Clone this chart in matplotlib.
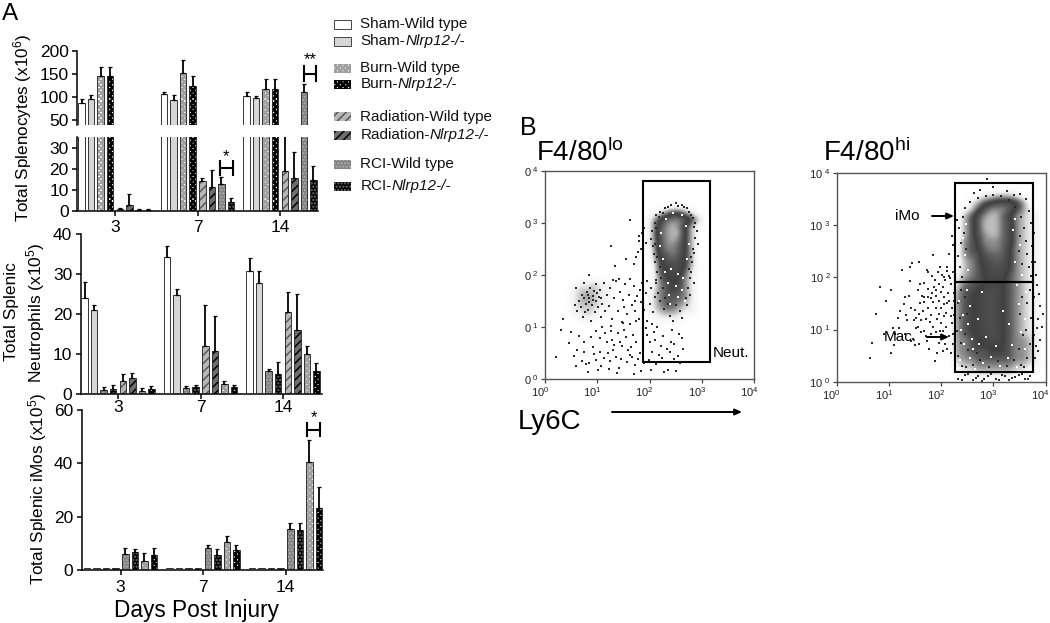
import numpy as np
import matplotlib
matplotlib.use('Agg')
import matplotlib.pyplot as plt
from matplotlib import hatch as mhatch
from matplotlib.colors import LinearSegmentedColormap
from matplotlib.patches import Rectangle
from matplotlib.path import Path
from matplotlib.transforms import ScaledTranslation

plt.rcParams['font.family'] = ['Liberation Sans', 'DejaVu Sans']
plt.rcParams['mathtext.fontset'] = 'custom'
plt.rcParams['mathtext.rm'] = 'Liberation Sans'
plt.rcParams['mathtext.default'] = 'regular'
plt.rcParams['hatch.linewidth'] = 1.1

days = ['3', '7', '14']

# upper panel, bars in drawn order: sham wt/ko, burn wt/ko, rad wt/ko, rci wt/ko
spleno_vals = [[88, 97, 146, 146, 1, 3, 0.5, 0.5],
               [106, 93, 151, 124, 14.5, 11.5, 13, 4.5],
               [102, 98, 117, 117, 19, 16, 110, 15]]
spleno_err = [[7, 8, 19, 19, 0.6, 5, 0.4, 0.4],
              [5, 12, 30, 22, 1.5, 8, 3.5, 2],
              [8, 5, 23, 22, 17, 12, 18, 6.5]]
spleno_kind = ['sham_wt', 'sham_ko', 'burn_wt', 'burn_ko', 'rad_wt', 'rad_ko', 'rci_wt', 'rci_ko']

neut_vals = [[24.1, 21, 1.1, 1.3, 3.2, 4, 0.8, 1.2],
             [34.2, 24.7, 1.5, 1.7, 12, 10.7, 2.5, 1.7],
             [30.7, 27.7, 5.7, 5, 20.5, 16, 10, 5.8]]
neut_err = [[3.9, 1.2, 0.6, 1, 1.8, 1.2, 0.7, 0.8],
            [2.8, 1.5, 0.5, 0.6, 10.2, 8.8, 0.7, 0.6],
            [3.3, 3, 0.6, 3, 5, 9, 2, 1.9]]
neut_kind = ['sham_wt', 'sham_ko', 'rci_wt', 'rci_ko', 'rad_wt', 'rad_ko', 'burn_wt', 'burn_ko']

imo_vals = [[0.8, 0.8, 0.8, 0.8, 6, 6.7, 3.3, 5.7],
            [0.8, 0.8, 0.8, 0.8, 8.3, 5.6, 10.5, 7.5],
            [0.8, 0.8, 0.8, 0.8, 15.3, 15, 40.5, 23.3]]
imo_err = [[0, 0, 0, 0, 2.3, 1.3, 2.9, 2.5],
           [0, 0, 0, 0, 1, 2.2, 2.3, 1.7],
           [0, 0, 0, 0, 2.2, 2.5, 8.2, 7.7]]
imo_kind = ['sham_wt', 'sham_ko', 'rad_wt', 'rad_ko', 'rci_wt', 'rci_ko', 'burn_wt', 'burn_ko']

legend_names = ['Sham-Wild type', 'Sham-', 'Burn-Wild type', 'Burn-',
                'Radiation-Wild type', 'Radiation-', 'RCI-Wild type', 'RCI-']
legend_kinds = ['sham_wt', 'sham_ko', 'burn_wt', 'burn_ko', 'rad_wt', 'rad_ko', 'rci_wt', 'rci_ko']

# flow plots: darkness per 1/8 decade, top row = 10^4
# 0 white, 5 darkest, 9 pale centre of the cloud
lo_density = [
    '', '', '', '', '', '',
    '00000000000000000135531',
    '0000000000000000257887520',
    '00000000000000002689852',
    '00000000000000002789952',
    '00000000000000002689852',
    '00000000000000002688752',
    '00000000000000001678752',
    '00000000000000001567652',
    '00000000000000000466652',
    '00000000000000000456641',
    '00000000000000000355531',
    '00000112110000000345531',
    '00001222110000001345431',
    '00001232110000001344431',
    '00001222110000001344321',
    '00001121100000001233211',
    '00000111000000000111100',
    '', '', '', '', '', '', '', '', '']

hi_density = [
    '', '', '',
    '0000000000000000000000112221',
    '00000000000000000000124566653',
    '000000000000000000001468887531',
    '0000000000000000000246899753211',
    '0000000000000000000246999763211',
    '0000000000000000000246999763211',
    '0000000000000000000246899763211',
    '0000000000000000000345888763211',
    '0000000000000000000345788753211',
    '0000000000000000000344677753211',
    '0000000000000000000234667653211',
    '0000000000000000000234566653211',
    '0000000000000000001234566643211',
    '0000000000000000001344555543211',
    '0000000000000000002445566543211',
    '0000000000000000003455666543211',
    '0000000000000000003455666543211',
    '0000000000000000003455666543211',
    '0000000000000000003455666543211',
    '0000000000000000003455666543211',
    '0000000000000000003455666543211',
    '0000000000000000003455666543211',
    '0000000000000000003345566543321',
    '0000000000000000003345555543321',
    '0000000000000000003344455543321',
    '0000000000000000002334444443321',
    '0000000000000000001223333332211',
    '00000000000000000001122222211',
    '']

lo_stray = [(1.63, 3.05), (1.27, 2.56), (1.34, 2.17), (0.85, 2.0), (1.55, 2.3), (1.75, 2.35), (1.83, 2.5),
            (1.8, 2.65), (1.79, 2.75), (1.9, 2.9), (1.85, 2.8), (1.71, 2.22), (1.94, 2.62), (1.78, 2.45),
            (0.35, 1.15), (0.3, 0.95), (0.22, 0.43), (0.45, 0.7), (0.5, 0.9), (0.62, 0.55), (0.7, 0.35),
            (0.78, 0.28), (0.92, 0.62), (1.05, 0.78), (1.13, 0.4), (1.22, 0.2), (1.31, 0.55), (1.4, 0.88),
            (1.48, 0.63), (1.57, 0.32), (1.66, 0.42), (1.75, 0.72), (1.84, 0.15), (1.95, 0.85), (2.04, 0.52),
            (2.13, 0.28), (2.22, 0.64), (2.31, 0.33), (2.43, 0.95), (2.55, 0.44), (2.64, 0.58), (0.66, 0.82),
            (0.74, 0.52), (0.83, 0.13), (0.97, 0.36), (1.08, 0.25), (1.18, 0.71), (1.27, 0.92), (1.37, 0.12),
            (1.46, 0.38), (1.55, 0.8), (1.64, 0.62), (1.73, 0.26), (1.82, 0.5), (1.93, 0.98), (2.02, 0.18),
            (2.11, 0.75), (2.24, 0.4), (2.36, 0.18), (2.47, 0.68), (2.58, 0.3), (0.93, 0.48), (1.02, 0.17),
            (1.15, 0.88), (1.25, 0.34), (1.33, 0.66), (1.42, 0.22), (1.52, 0.94), (1.62, 0.47), (1.7, 0.1),
            (1.88, 0.66), (1.99, 0.36), (2.08, 0.9), (2.18, 0.46), (2.28, 0.13), (2.39, 0.52), (1.26, 1.02),
            (1.5, 1.08), (1.29, 0.75), (1.74, 1.12), (2.05, 1.05), (2.25, 0.82), (2.41, 0.72), (2.5, 0.16),
            (2.62, 0.78), (0.55, 0.45), (0.6, 0.25), (0.88, 0.8), (0.98, 0.92), (1.1, 1.0), (1.2, 0.5),
            (1.36, 0.42), (1.44, 0.72), (1.58, 0.56), (1.68, 0.84), (1.78, 0.38), (1.9, 0.3), (2.0, 0.72),
            (2.15, 1.0), (2.33, 0.58), (2.46, 0.38), (2.56, 0.86), (1.05, 0.52), (0.75, 0.72), (0.85, 0.3)]

lo_cloud = [(0.6, 1.75), (0.65, 1.5), (0.62, 1.3), (0.7, 1.62), (0.72, 1.2), (0.75, 1.85), (0.78, 1.45),
            (0.8, 1.68), (0.82, 1.33), (0.85, 1.55), (0.87, 1.75), (0.88, 1.12), (0.9, 1.42), (0.92, 1.6),
            (0.95, 1.28), (0.97, 1.82), (0.98, 1.5), (1.0, 1.65), (1.02, 1.38), (1.05, 1.72), (1.07, 1.2),
            (1.08, 1.55), (1.1, 1.45), (1.12, 1.85), (1.15, 1.3), (1.18, 1.62), (0.58, 1.42), (0.68, 1.38),
            (0.74, 1.55), (0.84, 1.48), (0.94, 1.7), (1.04, 1.58), (0.77, 1.28), (0.91, 1.52), (0.83, 1.62),
            (1.22, 1.4), (1.25, 1.75), (1.28, 1.15), (1.32, 1.55), (1.36, 1.88), (1.4, 1.3), (1.44, 1.68),
            (1.47, 1.1), (1.5, 1.52), (1.54, 1.82), (1.57, 1.25), (1.6, 1.62), (1.63, 1.05), (1.66, 1.42),
            (1.7, 1.78), (1.73, 1.3), (1.76, 1.6), (1.8, 1.15), (1.83, 1.48), (1.86, 1.85), (1.9, 1.33),
            (1.93, 1.66), (1.96, 1.12), (2.0, 1.45), (2.03, 1.75), (2.07, 1.28), (2.1, 1.58), (2.13, 1.9),
            (1.3, 1.9), (1.42, 1.92), (1.52, 1.38), (1.62, 1.92), (1.72, 1.5), (1.82, 1.72), (1.95, 1.88)]

lo_edge = [(2.12, 3.15), (2.2, 3.22), (2.3, 3.28), (2.42, 3.35), (2.55, 3.33), (2.66, 3.3), (2.75, 3.22),
           (2.83, 3.1), (2.88, 3.0), (2.9, 2.85), (2.92, 2.6), (2.86, 2.42), (2.82, 2.25), (2.8, 2.05),
           (2.85, 1.85), (2.78, 1.62), (2.72, 1.42), (2.1, 3.0), (2.05, 2.85), (2.03, 2.7), (2.06, 2.55),
           (2.08, 2.4), (2.11, 2.25), (2.15, 2.05), (2.12, 1.85), (2.16, 1.65), (2.2, 1.5), (2.18, 3.12),
           (2.26, 3.2), (2.36, 3.3), (2.5, 3.38), (2.62, 3.35), (2.72, 3.28), (2.79, 3.15), (2.86, 2.92),
           (2.87, 2.72), (2.84, 2.5), (2.8, 2.35), (2.76, 2.12), (2.78, 1.95), (2.74, 1.75), (2.7, 1.55),
           (2.12, 2.9), (2.1, 2.6), (2.14, 2.35), (2.2, 2.15), (2.22, 1.95), (2.26, 1.75), (2.3, 1.55),
           (2.58, 1.3), (2.4, 1.22), (2.28, 1.35), (2.5, 1.42), (2.62, 1.18), (2.35, 1.45), (2.45, 1.12)]

lo_white = [(2.3, 2.05), (2.42, 2.12), (2.55, 2.02), (2.65, 1.95), (2.35, 1.85), (2.5, 1.78), (2.62, 1.72),
            (2.38, 1.62), (2.55, 1.58), (2.68, 1.5), (2.25, 2.3), (2.72, 2.3), (2.2, 2.55), (2.76, 2.6),
            (2.22, 2.8), (2.7, 2.95), (2.32, 3.08), (2.62, 3.15), (2.45, 3.2), (2.4, 1.45)]

hi_stray = [(0.75, 1.3), (0.95, 1.55), (1.03, 1.75), (1.1, 0.7), (0.68, 0.75), (1.2, 1.02), (1.35, 1.18),
            (1.5, 1.38), (1.63, 1.65), (1.58, 2.3), (1.45, 2.27), (1.3, 1.62), (1.4, 1.93), (1.72, 2.15),
            (1.85, 2.42), (1.95, 1.88), (2.05, 2.0), (2.15, 2.02), (1.62, 0.95), (1.78, 1.15), (1.9, 1.42),
            (1.22, 1.35), (1.08, 1.02), (0.9, 0.92), (1.52, 1.22), (1.68, 1.52), (2.0, 1.72), (1.82, 1.7),
            (2.12, 1.5), (1.33, 1.28), (1.46, 0.82), (1.55, 1.05), (1.7, 0.88), (1.92, 1.2), (1.04, 0.55),
            (0.82, 1.82), (2.03, 0.98), (2.19, 1.25), (1.77, 0.62), (1.25, 2.15), (1.4, 2.2), (1.6, 1.88),
            (1.88, 0.4), (2.22, 0.72), (0.64, 0.45), (3.8, 2.3), (3.83, 1.85), (3.9, 1.45), (3.86, 1.2),
            (3.78, 0.9), (3.93, 1.05), (3.81, 0.68), (3.88, 1.68), (3.79, 0.45), (3.84, 1.02), (3.95, 1.3),
            (3.82, 2.05), (3.77, 1.62), (3.9, 0.8), (3.85, 0.58), (2.33, 0.06), (2.45, 0.12), (2.6, 0.03),
            (2.7, 0.1), (2.82, 0.05), (2.95, 0.14), (3.1, 0.04), (3.22, 0.11), (3.35, 0.07), (3.48, 0.13),
            (3.6, 0.05), (3.7, 0.1), (2.52, 0.15), (2.66, 0.07), (2.78, 0.02), (2.9, 0.11), (3.04, 0.06),
            (3.16, 0.13), (3.3, 0.03), (3.42, 0.09), (3.55, 0.14), (3.66, 0.06), (2.4, 0.03), (2.88, 3.88),
            (3.5, 3.6), (2.3, 3.1), (2.2, 2.8), (2.15, 2.45), (2.12, 2.2), (2.23, 2.62), (3.0, 3.73),
            (2.62, 3.62), (2.75, 3.68), (3.25, 3.65), (3.4, 3.58), (3.62, 3.5), (3.72, 3.05), (3.78, 2.85),
            (3.68, 3.28), (3.74, 2.6), (3.73, 2.3)]

hi_cloud = [(1.75, 2.1), (1.82, 2.02), (1.88, 1.95), (1.93, 2.1), (1.98, 2.2), (2.03, 1.82), (2.08, 1.95),
            (2.13, 1.7), (2.18, 1.88), (2.22, 2.1), (1.68, 1.9), (1.74, 1.78), (1.8, 1.6), (1.86, 1.82),
            (1.91, 1.65), (1.96, 1.55), (2.0, 1.42), (2.05, 1.62), (2.1, 1.32), (2.15, 1.55), (2.2, 1.42),
            (2.24, 1.7), (1.55, 1.75), (1.6, 1.5), (1.65, 1.35), (1.7, 1.2), (1.75, 1.42), (1.8, 1.28),
            (1.85, 1.05), (1.9, 0.95), (1.95, 1.3), (2.0, 1.12), (2.05, 1.25), (2.1, 1.05), (2.15, 0.88),
            (2.2, 1.12), (2.25, 1.28), (1.38, 1.65), (1.42, 1.42), (1.47, 1.18), (1.52, 1.02), (1.57, 1.3),
            (1.62, 1.18), (1.67, 0.98), (1.72, 0.78), (1.8, 0.92), (1.95, 0.75), (2.08, 0.72), (2.18, 0.55),
            (1.28, 1.48), (1.18, 1.22), (1.12, 0.92), (1.3, 0.92), (1.42, 0.78), (1.58, 0.72), (1.75, 1.62),
            (2.02, 2.05), (2.12, 2.12), (1.9, 1.75), (2.16, 1.98), (1.85, 1.52), (2.06, 1.48), (2.24, 1.55),
            (1.98, 0.98), (2.22, 0.92), (2.12, 0.62), (1.68, 1.62), (2.04, 0.58), (1.92, 0.55), (1.5, 0.7)]

hi_edge = [(2.32, 2.4), (2.38, 2.65), (2.35, 2.95), (2.42, 3.15), (2.46, 3.32), (2.55, 3.45), (2.7, 3.52),
           (2.85, 3.55), (3.0, 3.58), (3.15, 3.55), (3.3, 3.48), (3.42, 3.35), (3.52, 3.15), (3.58, 2.95),
           (3.62, 2.7), (3.65, 2.45), (3.68, 2.2), (3.72, 2.02), (2.36, 2.2), (2.4, 2.0), (2.38, 1.75),
           (2.32, 1.5), (2.36, 1.22), (2.31, 0.98), (2.38, 0.75), (2.33, 0.5), (2.4, 0.3), (3.7, 1.75),
           (3.65, 1.5), (3.71, 1.22), (3.62, 1.0), (3.7, 0.72), (3.64, 0.45), (3.58, 0.28), (2.45, 1.62),
           (2.5, 1.3), (2.46, 0.92), (2.52, 0.6), (2.48, 0.28), (3.55, 1.62), (3.5, 1.3), (3.56, 0.9),
           (3.48, 0.62), (3.52, 0.32), (2.48, 2.55), (2.44, 2.85), (3.48, 2.5), (3.55, 2.25), (3.5, 2.8),
           (2.6, 0.32), (2.75, 0.42), (2.92, 0.28), (3.08, 0.4), (3.25, 0.3), (3.4, 0.42), (2.68, 0.55)]

hi_white = [(2.35, 1.55), (2.42, 1.28), (2.38, 1.0), (2.44, 0.72), (2.36, 0.42), (2.5, 1.75), (2.55, 1.45),
            (2.52, 1.1), (2.58, 0.82), (2.55, 0.45), (2.65, 0.25), (2.8, 0.35), (2.95, 0.48), (3.12, 0.3),
            (3.28, 0.45), (3.45, 0.28), (3.6, 0.62), (3.52, 0.95), (3.6, 1.2), (3.48, 1.48), (3.62, 1.72),
            (3.45, 1.85), (3.55, 2.05), (3.42, 2.3), (3.5, 2.62), (3.38, 2.9), (3.42, 3.12), (2.45, 2.42),
            (2.52, 2.15), (2.42, 2.75), (2.48, 3.02), (2.6, 0.62), (2.72, 0.72), (3.35, 0.7), (3.3, 1.1),
            (2.7, 1.2), (2.85, 0.85), (3.05, 0.68), (3.18, 1.35), (2.78, 1.72)]

W, H = 1050, 623
fig = plt.figure(figsize=(W / 100, H / 100), dpi=100)


class Checker(mhatch.HatchPatternBase):
    # filled checker squares, matplotlib has no such hatch (takes the place of '*')
    filled = True

    def __init__(self, hatch, density):
        self.num_steps = hatch.count('*') * density
        self.num_vertices = self.num_steps ** 2 * 2 * 5

    def set_vertices_and_codes(self, vertices, codes):
        if self.num_steps == 0:
            return
        size = 0.5 / self.num_steps
        n = 0
        for i in range(self.num_steps):
            for j in range(self.num_steps):
                for off in (0, size):
                    x, y = i / self.num_steps + off, j / self.num_steps + off
                    vertices[n:n + 5] = [(x, y), (x + size, y), (x + size, y + size),
                                         (x, y + size), (x, y)]
                    codes[n:n + 5] = [Path.MOVETO, Path.LINETO, Path.LINETO, Path.LINETO,
                                      Path.CLOSEPOLY]
                    n += 5


mhatch._hatch_types[:] = [h for h in mhatch._hatch_types if h is not mhatch.Stars] + [Checker]

# facecolor, hatch, hatch colour
styles = {
    'sham_wt': ('white', None, '#333333'),
    'sham_ko': ('#d6d6d6', None, '#333333'),
    'burn_wt': ('white', '***', '#a0a0a0'),
    'burn_ko': ('white', '***', 'black'),
    'rad_wt': ('#b8b8b8', '////', '#5a5a5a'),
    'rad_ko': ('#6e6e6e', '////', 'black'),
    'rci_wt': ('#808080', '.....', '#b0b0b0'),
    'rci_ko': ('black', '.....', '#707070'),
}


def px_axes(left, top, right, bottom):
    ax = fig.add_axes([left / W, 1 - bottom / H, (right - left) / W, (bottom - top) / H])
    ax.patch.set_visible(False)
    return ax


def draw_bars(ax, vals, errs, kinds, step):
    bar_step = 9.55 / step
    for g in range(len(days)):
        for i, kind in enumerate(kinds):
            x = g + (i - 3.5) * bar_step
            face, hatch, hcol = styles[kind]
            ax.bar(x, vals[g][i], width=bar_step * 0.68, color=face, hatch=hatch, edgecolor=hcol,
                   linewidth=0, zorder=2)
            ax.bar(x, vals[g][i], width=bar_step * 0.68, fill=False, edgecolor='#333333',
                   linewidth=0.7, zorder=3)
            if errs[g][i] > 0:
                ax.errorbar(x, vals[g][i], yerr=[[0], [errs[g][i]]], color='black', elinewidth=1.3,
                            capsize=1.4, capthick=0.9, zorder=4)


def style_bar_axes(ax, fontsize=12.5):
    for s in ('top', 'right'):
        ax.spines[s].set_visible(False)
    for s in ('left', 'bottom'):
        ax.spines[s].set_linewidth(1.1)
    ax.tick_params(width=1.1, length=3.5, labelsize=fontsize, pad=2.5)


def bar_panel(axis_left, axis_right, tick3, step, top, bottom, vals, errs, kinds, ymax, yticks, xpad):
    ax = px_axes(axis_left, top, axis_right, bottom)
    draw_bars(ax, vals, errs, kinds, step)
    ax.set_xlim((axis_left - tick3) / step, (axis_right - tick3) / step)
    ax.set_ylim(0, ymax)
    ax.set_yticks(yticks)
    ax.set_xticks(range(len(days)), days)
    style_bar_axes(ax)
    ax.tick_params(axis='x', pad=xpad)
    return ax


# broken top panel
step_top = 82.5
ax_up = px_axes(77, 50.7, 318, 125)
draw_bars(ax_up, spleno_vals, spleno_err, spleno_kind, step_top)
ax_up.set_xlim((77 - 115) / step_top, (318 - 115) / step_top)
ax_up.set_ylim(40, 200)
ax_up.set_yticks([50, 100, 150, 200])
ax_up.set_xticks([])
style_bar_axes(ax_up)
ax_up.spines['bottom'].set_visible(False)

ax_low = bar_panel(77, 318, 115, step_top, 136.7, 211.3, spleno_vals, spleno_err, spleno_kind,
                   35.4, [0, 10, 20, 30], 3)
ax_mid = bar_panel(80.7, 322, 118, 82.5, 234, 394, neut_vals, neut_err, neut_kind, 40,
                   [0, 10, 20, 30, 40], 0.5)
ax_bot = bar_panel(81.7, 323, 120.5, 82.5, 409.7, 570, imo_vals, imo_err, imo_kind, 60,
                   [0, 20, 40, 60], 4)

# flow plots
gray_map = LinearSegmentedColormap.from_list(
    'flow', ['white', '#f0f0f0', '#c0c0c0', '#8a8a8a', '#5a5a5a', '#404040', '#4c4c4c', '#626262',
             '#888888', '#bdbdbd'])


def flow_panel(left, top, right, bottom, density, dark, light, ylabel_prefix):
    ax = px_axes(left, top, right, bottom)
    grid = np.array([[int(c) for c in row.ljust(32, '0')] for row in density])
    ax.imshow(grid, cmap=gray_map, vmin=0, vmax=9, extent=[0, 4, 0, 4], origin='upper',
              interpolation='bicubic', aspect='auto', zorder=1)
    ax.scatter(*zip(*dark), s=1.8, c='#2a2a2a', marker='s', linewidths=0, zorder=2)
    ax.scatter(*zip(*light), s=1.8, c='white', marker='s', linewidths=0, zorder=2)
    ax.set_xlim(0, 4)
    ax.set_ylim(0, 4)
    ax.set_xticks(range(5), ['$10^{%d}$' % d for d in range(5)])
    ax.set_yticks(range(5), ['$%s^{\\ %d}$' % (ylabel_prefix, d) for d in range(5)])
    ax.tick_params(length=3, width=0.9, labelsize=8, color='#444444', pad=1.5, labelcolor='#222222')
    shift = ScaledTranslation(-5 / 100, 0, fig.dpi_scale_trans)
    for lab in ax.get_xticklabels():
        lab.set_transform(lab.get_transform() + shift)
    for s in ax.spines.values():
        s.set_linewidth(1.0)
        s.set_color('#555555')
    return ax


ax_lo = flow_panel(545, 171, 754, 379, lo_density, lo_stray + lo_cloud + lo_edge, lo_white, '0')
ax_lo.add_patch(Rectangle((1.87, 0.33), 1.29, 3.48, fill=False, edgecolor='black', linewidth=1.5, zorder=3))

ax_hi = flow_panel(836.7, 173, 1045.7, 381.7, hi_density, hi_stray + hi_cloud + hi_edge, hi_white, '10')
ax_hi.add_patch(Rectangle((2.27, 1.91), 1.48, 1.89, fill=False, edgecolor='black', linewidth=1.5, zorder=3))
ax_hi.add_patch(Rectangle((2.27, 0.18), 1.48, 1.73, fill=False, edgecolor='black', linewidth=1.5, zorder=3))

# everything else sits on a full figure overlay in pixels
ov = fig.add_axes([0, 0, 1, 1], facecolor='none')
ov.set_xlim(0, W)
ov.set_ylim(H, 0)
ov.axis('off')

ov.text(2, 14, 'A', fontsize=17.5, va='center')
ov.text(520, 128, 'B', fontsize=18, va='center')
ov.text(23, 128, 'Total Splenocytes (x10$^{6}$)', fontsize=12.3, rotation=90, ha='center', va='center')
ov.text(12, 312, 'Total Splenic', fontsize=12.5, rotation=90, ha='center', va='center')
ov.text(36, 313, 'Neutrophils (x10$^{5}$)', fontsize=12.5, rotation=90, ha='center', va='center')
ov.text(38, 489, 'Total Splenic iMos (x10$^{5}$)', fontsize=12.3, rotation=90, ha='center', va='center')
ov.text(196, 610, 'Days Post Injury', fontsize=16.3, ha='center', va='center')

ov.text(536, 153, 'F4/80$^{lo}$', fontsize=20, va='center')
ov.text(823, 153, 'F4/80$^{hi}$', fontsize=20, va='center')
ov.text(518, 422, 'Ly6C', fontsize=20, va='center')
ov.text(712.5, 353, 'Neut.', fontsize=11, va='center')
ov.text(895, 216, 'iMo', fontsize=11, va='center')
ov.text(884, 337, 'Mac.', fontsize=11, va='center')

arrow_style = dict(arrowstyle='-|>,head_width=0.18,head_length=0.4', color='black', lw=1.4,
                   shrinkA=0, shrinkB=0)
ov.annotate('', xy=(742, 412), xytext=(612, 412), arrowprops=arrow_style)
ov.annotate('', xy=(954, 216), xytext=(932, 216), arrowprops=arrow_style)
ov.annotate('', xy=(949, 337), xytext=(927, 337), arrowprops=arrow_style)

# significance brackets
for x0, x1, y0, y1, star, ystar in [(303.5, 316, 66, 81, '**', 58), (220, 232.5, 161, 175, '*', 155),
                                    (307, 320, 423, 436, '*', 416)]:
    ov.plot([x0, x0], [y0, y1], color='black', lw=1.5)
    ov.plot([x1, x1], [y0, y1], color='black', lw=1.5)
    ov.plot([x0, x1], [(y0 + y1) / 2] * 2, color='black', lw=1.5)
    ov.text((x0 + x1) / 2, ystar + 2, star, fontsize=12, ha='center', va='center')

# legend
legend_y = [24, 41, 68.3, 84.3, 116.7, 135, 164, 186]
for name, kind, y in zip(legend_names, legend_kinds, legend_y):
    face, hatch, hcol = styles[kind]
    ov.add_patch(Rectangle((334, y - 4.5), 16.5, 9, facecolor=face, hatch=hatch, edgecolor=hcol, linewidth=0))
    if kind in ('sham_wt', 'sham_ko'):
        ov.add_patch(Rectangle((334, y - 4.5), 16.5, 9, fill=False, edgecolor='#444444', linewidth=0.7))
    label = ov.text(360.5, y, name, fontsize=11, va='center', color='#111111')
    if kind.endswith('_ko'):
        ov.annotate('Nlrp12-/-', xy=(1, 0), xycoords=label, va='bottom', fontsize=11,
                    style='italic', color='#111111')

plt.savefig('out.png', dpi=100)
